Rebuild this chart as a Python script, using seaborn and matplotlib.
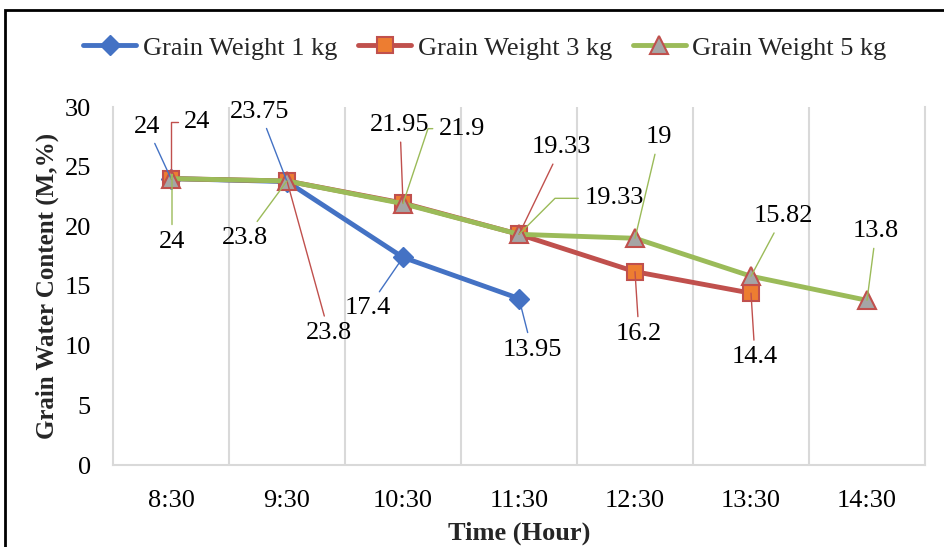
import numpy as np
import pandas as pd
import matplotlib
matplotlib.use("Agg")
import matplotlib.pyplot as plt
from matplotlib.patches import Rectangle
import seaborn as sns

# ---------------- data ----------------
times = ["8:30", "9:30", "10:30", "11:30", "12:30", "13:30", "14:30"]
w1_values = [24, 23.75, 17.4, 13.95]
w3_values = [24, 23.8, 21.95, 19.33, 16.2, 14.4]
w5_values = [24, 23.8, 21.9, 19.33, 19, 15.82, 13.8]
series_names = ["Grain Weight 1 kg", "Grain Weight 3 kg", "Grain Weight 5 kg"]
y_ticks = [0, 5, 10, 15, 20, 25, 30]

# ---------------- style ----------------
sns.set_theme(style="white")
plt.rcParams["font.family"] = ["Liberation Serif", "DejaVu Serif"]
plt.rcParams["mathtext.default"] = "regular"

BLUE = "#4472C4"
RED = "#C0504D"
ORANGE = "#ED7D31"
GREEN = "#9BBB59"
GRAY = "#A5A5A5"
GRID = "#D9D9D9"
FS = 19

fig = plt.figure(figsize=(9.45, 5.47), dpi=100)
ax = fig.add_axes([113 / 945, (547 - 465) / 547, (925 - 113) / 945, (465 - 107) / 547])

styles = [
    dict(color=BLUE, marker="D", markersize=10, markerfacecolor=BLUE, markeredgecolor=BLUE, markeredgewidth=1.0),
    dict(color=RED, marker="s", markersize=12, markerfacecolor=ORANGE, markeredgecolor=RED, markeredgewidth=1.5),
    dict(color=GREEN, marker="^", markersize=13, markerfacecolor=GRAY, markeredgecolor=RED, markeredgewidth=1.5),
]
all_values = [w1_values, w3_values, w5_values]

for name, vals, st in zip(series_names, all_values, styles):
    df = pd.DataFrame({"pos": np.arange(len(vals)), "value": vals})
    sns.lineplot(data=df, x="pos", y="value", ax=ax, linewidth=3.5, label=name,
                 solid_capstyle="round", zorder=3, **st)

# label offsets (pixels: dx, dy) and connection styles per series
label_layout = [
    [(-24, 52, None), (-27, 70, None), (-35, -51, None), (13, -51, None)],
    [(26, 57, "angle,angleA=0,angleB=90,rad=0"), (42, -152, None), (-3, 78, None),
     (42, 87, None), (4, -62, None), (4, -64, None)],
    [(1, -63, "angle,angleA=90,angleB=77,rad=0"), (-42, -57, None), (59, 75, "angle,angleA=0,angleB=71.6,rad=0"),
     (95, 36, "angle,angleA=0,angleB=45,rad=0"), (24, 101, None), (32, 60, None), (9, 69, None)],
]
line_colors = [BLUE, RED, GREEN]
for vals, layout, lc in zip(all_values, label_layout, line_colors):
    for i, (v, (dx, dy, cs)) in enumerate(zip(vals, layout)):
        ap = dict(arrowstyle="-", color=lc, lw=1.0, shrinkA=2, shrinkB=0)
        if cs:
            ap["connectionstyle"] = cs
        ax.annotate(f"{v:g}", xy=(i, v), xytext=(dx, dy), textcoords="offset pixels",
                    ha="center", va="center", fontsize=FS, color="black",
                    arrowprops=ap, zorder=5)

# axes
ax.set_xlim(-0.5, len(times) - 0.5)
ax.set_ylim(0, 30)
ax.set_yticks(y_ticks)
ax.set_xticks(np.arange(len(times)))
ax.set_xticklabels(times)
ax.set_xticks(np.arange(0.5, len(times) - 1), minor=True)
ax.grid(False)
ax.grid(True, which="minor", axis="x", color=GRID, linewidth=1.5)
ax.tick_params(axis="both", which="both", length=0, labelsize=FS, colors="black")
ax.tick_params(axis="y", pad=16)
ax.tick_params(axis="x", pad=18)
for s in ["left", "right", "bottom"]:
    ax.spines[s].set_visible(True)
    ax.spines[s].set_color(GRID)
    ax.spines[s].set_linewidth(1.5)
ax.spines["top"].set_visible(False)

ax.set_xlabel("Time (Hour)", fontsize=FS, fontweight="bold", labelpad=7)
ax.set_ylabel("Grain Water Content (M,%)", fontsize=18, fontweight="bold", labelpad=4)

ax.legend(loc="center", bbox_to_anchor=(485 / 945, 1 - 48 / 547), bbox_transform=fig.transFigure,
          ncol=3, frameon=False, fontsize=FS, handlelength=2.0, handletextpad=0.25,
          columnspacing=0.8)

# outer border
fig.patches.append(Rectangle((5 / 945, -0.2), 1.5, 1.2 - 10 / 547, transform=fig.transFigure,
                             fill=False, edgecolor="black", linewidth=2, zorder=10))

fig.savefig("out.png", dpi=100)
